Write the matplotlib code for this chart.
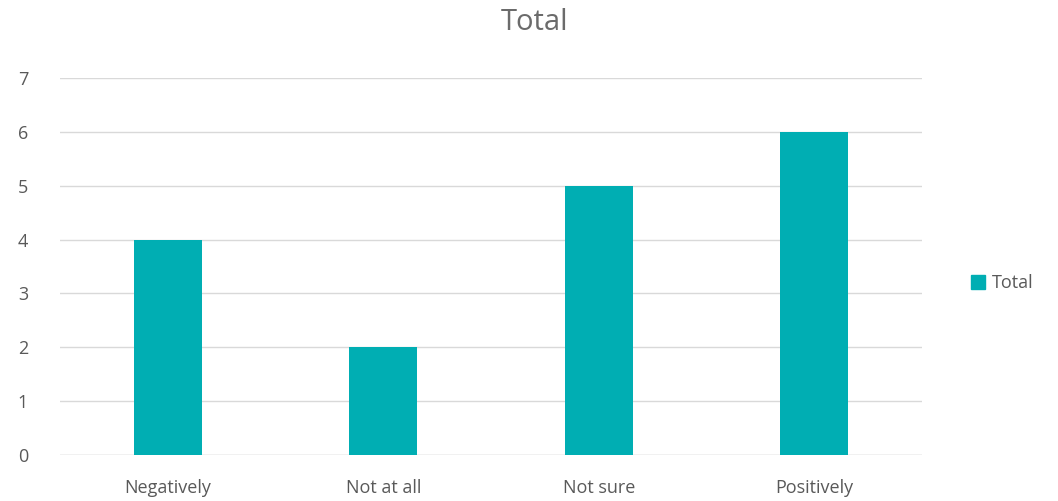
import matplotlib
matplotlib.use("Agg")
import matplotlib.pyplot as plt
from matplotlib.patches import Patch

categories = ["Negatively", "Not at all", "Not sure", "Positively"]
totals = [4, 2, 5, 6]
yticks = [0, 1, 2, 3, 4, 5, 6, 7]

TEAL = "#00AEB3"
GRID = "#D9D9D9"
TEXT = "#595959"

plt.rcParams["font.family"] = ["Open Sans", "DejaVu Sans"]

fig = plt.figure(figsize=(10.58, 5.01), dpi=100)
ax = fig.add_axes([0.0567, 0.0918, 0.8148, 0.7525])

x = range(len(categories))
ax.bar(x, totals, width=0.315, color=TEAL, zorder=3)

ax.set_xlim(-0.5, len(categories) - 0.5)
ax.set_ylim(0, 7)
ax.set_yticks(yticks)
ax.set_xticks(list(x))
ax.set_xticklabels(categories)
ax.yaxis.grid(True, color=GRID, linewidth=1, zorder=0)
for s in ax.spines.values():
    s.set_visible(False)
ax.axhline(0, color=GRID, linewidth=1, zorder=1)
ax.tick_params(axis="both", length=0, labelsize=13, colors=TEXT)
ax.tick_params(axis="y", pad=23)
ax.tick_params(axis="x", pad=17)

fig.text(0.505, 0.955, "Total", ha="center", va="center", fontsize=21, color="#6b6b6b")

fig.legend(handles=[Patch(color=TEAL, label="Total")], loc="center left",
           bbox_to_anchor=(0.902, 0.435), frameon=False, fontsize=13,
           labelcolor=TEXT, handlelength=0.8, handleheight=0.8, handletextpad=0.4)

fig.savefig("out.png", dpi=100)
